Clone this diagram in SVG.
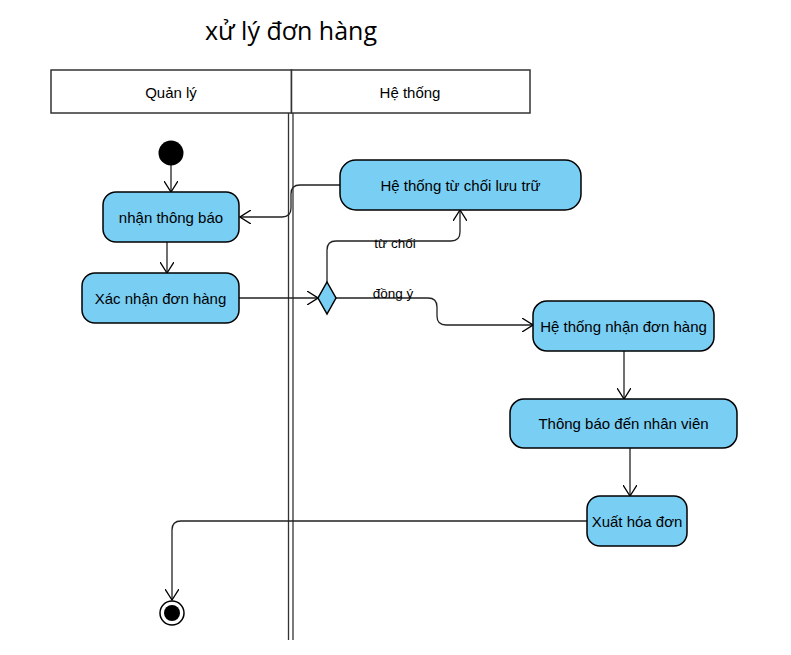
<svg xmlns="http://www.w3.org/2000/svg" width="791" height="655" viewBox="0 0 791 655">
<defs>
<marker id="open" viewBox="0 0 12 14" refX="11" refY="7" markerWidth="12" markerHeight="14" markerUnits="userSpaceOnUse" orient="auto">
<path d="M0,0 L11,7 L0,14" fill="none" stroke="#000" stroke-width="1.3"/>
</marker>
</defs>
<style>
.node{fill:#79CEF4;stroke:#000;stroke-width:1.5}
.t{font-family:"Liberation Sans",Arial,sans-serif;font-size:15px;fill:#000;text-anchor:middle;dominant-baseline:central}
.e{fill:none;stroke:#222;stroke-width:1.3;marker-end:url(#open)}
.ln{fill:none;stroke:#222;stroke-width:1.3}
.lane{fill:#fff;stroke:#333;stroke-width:1.5}
</style>
<rect width="791" height="655" fill="#fff"/>
<text x="291" y="30" style="font-family:'Open Sans','Noto Sans',sans-serif;font-size:25px;fill:#000;text-anchor:middle;dominant-baseline:central">xử lý đơn hàng</text>
<g id="lanes">
<rect class="lane" x="51" y="70" width="240.5" height="43"/>
<rect class="lane" x="291.5" y="70" width="238.5" height="43"/>
<text class="t" x="171" y="92">Quản lý</text>
<text class="t" x="410" y="92">Hệ thống</text>
<line x1="288.5" y1="113" x2="288.5" y2="640" stroke="#333" stroke-width="1.3"/>
<line x1="293" y1="113" x2="293" y2="640" stroke="#333" stroke-width="1.3"/>
</g>
<g id="connectors">
<path class="e" d="M171,165 L171,192"/>
<path class="e" d="M167,242 L167,273"/>
<path class="e" d="M239,298 L318,298"/>
<path class="e" d="M340,185 L300,185 Q291,185 291,194 L291,208 Q291,217 282,217 L240,217"/>
<path class="e" d="M327,282 L327,250 Q327,241 336,241 L451,241 Q460,241 460,232 L460,210"/>
<path class="e" d="M336,298 L428,298 Q437,298 437,307 L437,316 Q437,325 446,325 L533,325"/>
<path class="e" d="M624,351 L624,399"/>
<path class="e" d="M630,448 L630,496"/>
<path class="e" d="M587,521 L181,521 Q172,521 172,530 L172,600"/>
<text x="395" y="243" style="font-family:'Liberation Sans',Arial,sans-serif;font-size:13.5px;fill:#000;text-anchor:middle;dominant-baseline:central">từ chối</text>
<text x="393" y="293" style="font-family:'Liberation Sans',Arial,sans-serif;font-size:13.5px;fill:#000;text-anchor:middle;dominant-baseline:central">đồng ý</text>
</g>
<g id="start"><circle cx="171" cy="153" r="12.5" fill="#000"/></g>
<g id="n1"><rect class="node" x="103" y="192" width="136" height="50" rx="13"/><text class="t" x="171" y="217">nhận thông báo</text></g>
<g id="n2"><rect class="node" x="82" y="273" width="157" height="50" rx="13"/><text class="t" x="160.5" y="298">Xác nhận đơn hàng</text></g>
<g id="decision"><polygon class="node" points="327,282 336,298 327,314 318,298"/></g>
<g id="n3"><rect class="node" x="340" y="160" width="241" height="50" rx="16"/><text class="t" x="460.5" y="185">Hệ thống từ chối lưu trữ</text></g>
<g id="n4"><rect class="node" x="533" y="301" width="181" height="50" rx="14"/><text class="t" x="623.5" y="326">Hệ thống nhận đơn hàng</text></g>
<g id="n5"><rect class="node" x="510" y="399" width="227" height="49" rx="14"/><text class="t" x="623.5" y="423.5">Thông báo đến nhân viên</text></g>
<g id="n6"><rect class="node" x="587" y="496" width="100" height="50" rx="13"/><text class="t" x="637" y="521">Xuất hóa đơn</text></g>
<g id="end"><circle cx="172" cy="613" r="12" fill="#fff" stroke="#000" stroke-width="1.5"/><circle cx="172" cy="613" r="8" fill="#000"/></g>
</svg>
